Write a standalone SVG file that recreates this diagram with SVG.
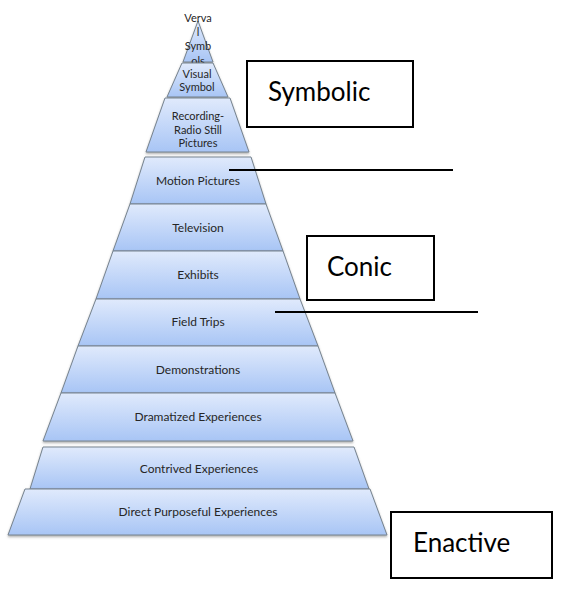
<svg xmlns="http://www.w3.org/2000/svg" width="566" height="594" viewBox="0 0 566 594">
  <defs>
    <linearGradient id="tierFill" x1="0" y1="0" x2="0" y2="1">
      <stop offset="0" stop-color="#e0eafc"/>
      <stop offset="1" stop-color="#a8c5f5"/>
    </linearGradient>
    <filter id="tierShadow" x="-10%" y="-10%" width="120%" height="130%">
      <feDropShadow dx="0" dy="1.5" stdDeviation="1" flood-color="#6b6b6b" flood-opacity="0.55"/>
    </filter>
    <!-- overflowing words are cut off where the next tier begins -->
    <clipPath id="clipVerbal"><rect x="150" y="0" width="100" height="63"/></clipPath>
    <clipPath id="clipVisual"><rect x="150" y="0" width="100" height="99"/></clipPath>
  </defs>
  <style>
    .tier polygon { fill: url(#tierFill); stroke: #76838f; stroke-width: 1; filter: url(#tierShadow); }
    .tier text { font-family: Lato, "Open Sans", "Liberation Sans", sans-serif; font-size: 12px; fill: #262626; text-anchor: middle; }
    .tier text.small { font-size: 11px; }
    .label rect { fill: #ffffff; stroke: #000000; stroke-width: 2; }
    .label text { font-family: Lato, "Open Sans", "Liberation Sans", sans-serif; font-size: 26px; fill: #000000; }
    .connectors line { stroke: #000000; stroke-width: 2; }
  </style>

  <rect x="0" y="0" width="566" height="594" fill="#ffffff"/>

  <!-- Pyramid tiers, drawn top to bottom -->
  <g id="tier-verbal-symbols" class="tier">
    <polygon points="198,21 213,62 183,62"/>
    <text class="small" x="198" y="22">Verva</text>
    <text class="small" x="198" y="36">l</text>
    <text class="small" x="198" y="50">Symb</text>
    <text class="small" x="198" y="64.5" clip-path="url(#clipVerbal)">ols</text>
  </g>
  <g id="tier-visual-symbols" class="tier">
    <polygon points="182,63 213,63 228,97 167,97"/>
    <text class="small" x="197" y="78">Visual</text>
    <text class="small" x="197" y="91">Symbol</text>
    <text class="small" x="197" y="104.5" clip-path="url(#clipVisual)">s</text>
  </g>
  <g id="tier-recording" class="tier">
    <polygon points="165,98 230,98 249,152 146,152"/>
    <text class="small" x="198" y="120">Recording-</text>
    <text class="small" x="198" y="133.5">Radio Still</text>
    <text class="small" x="198" y="147">Pictures</text>
  </g>
  <g id="tier-motion-pictures" class="tier">
    <polygon points="145,157 251,157 266,204 130,204"/>
    <text x="198" y="185">Motion Pictures</text>
  </g>
  <g id="tier-television" class="tier">
    <polygon points="130,204 266,204 283,251 113,251"/>
    <text x="198" y="232">Television</text>
  </g>
  <g id="tier-exhibits" class="tier">
    <polygon points="113,251 283,251 300,299 96,299"/>
    <text x="198" y="279">Exhibits</text>
  </g>
  <g id="tier-field-trips" class="tier">
    <polygon points="96,299 300,299 318,346 78,346"/>
    <text x="198" y="326">Field Trips</text>
  </g>
  <g id="tier-demonstrations" class="tier">
    <polygon points="78,346 318,346 335,393 61,393"/>
    <text x="198" y="374">Demonstrations</text>
  </g>
  <g id="tier-dramatized" class="tier">
    <polygon points="61,393 335,393 353,441 43,441"/>
    <text x="198" y="421">Dramatized Experiences</text>
  </g>
  <g id="tier-contrived" class="tier">
    <polygon points="43,447 354,447 369,489 30,489"/>
    <text x="199" y="473">Contrived Experiences</text>
  </g>
  <g id="tier-direct" class="tier">
    <polygon points="25,489 370,489 387,535 8,535"/>
    <text x="198" y="516">Direct Purposeful Experiences</text>
  </g>

  <!-- Divider lines -->
  <g id="connectors" class="connectors">
    <line x1="229" y1="170" x2="453" y2="170"/>
    <line x1="275" y1="312" x2="478" y2="312"/>
  </g>

  <!-- Stage labels -->
  <g id="label-symbolic" class="label">
    <rect x="247" y="61" width="166" height="66"/>
    <text x="268" y="101">Symbolic</text>
  </g>
  <g id="label-conic" class="label">
    <rect x="307" y="236" width="127" height="64"/>
    <text x="327" y="276">Conic</text>
  </g>
  <g id="label-enactive" class="label">
    <rect x="391" y="512" width="161" height="66"/>
    <text x="413" y="552">Enactive</text>
  </g>
</svg>
